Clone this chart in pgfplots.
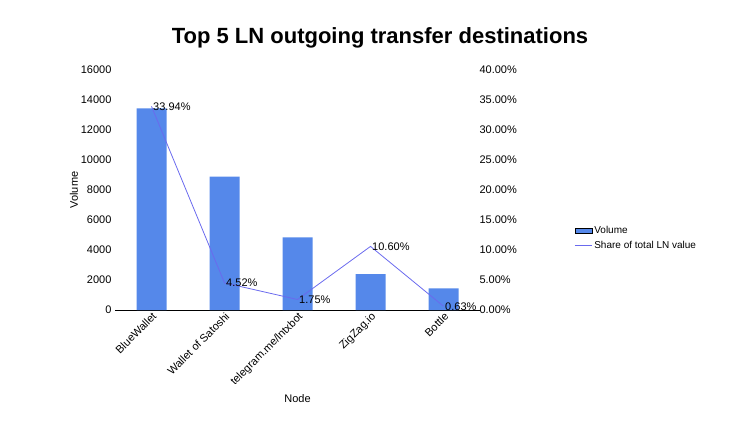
\documentclass[border=0pt]{standalone}
\usepackage{pgfplots}
\pgfplotsset{compat=1.18}
\usepackage{fontspec}
\setmainfont{Liberation Sans}
\definecolor{barc}{HTML}{5588EA}
\definecolor{linec}{HTML}{6A6AEE}
\begin{document}
\begin{tikzpicture}[x=1pt,y=1pt]
\path (0,0) rectangle (746,-425);
\node[font=\fontsize{22}{24}\selectfont\bfseries] at (380,-38) {Top 5 LN outgoing transfer destinations};
\begin{axis}[at={(115pt,-310pt)},anchor=south west,scale only axis,width=365pt,height=240pt,
  xmin=-0.5,xmax=4.5,ymin=0,ymax=16000,ytick={0,2000,...,16000},scaled y ticks=false,
  xtick={0,1,2,3,4},xticklabels={BlueWallet,Wallet of Satoshi,telegram.me/lntxbot,ZigZag.io,Bottle},
  xticklabel style={rotate=45,anchor=north east,font=\fontsize{11}{12}\selectfont,inner sep=1pt},
  yticklabel style={font=\fontsize{11}{12}\selectfont,/pgf/number format/1000 sep={}},
  /pgf/number format/assume math mode=true,
  axis y line*=left,axis x line*=bottom,y axis line style={draw=none},
  major tick length=0pt,
  ylabel={Volume},xlabel={Node},
  label style={font=\fontsize{11}{12}\selectfont},
  ylabel style={yshift=-4pt},
  xlabel style={yshift=-2pt}]
\addplot[ybar,bar width=30pt,fill=barc,draw=none] coordinates {(0,13450)(1,8900)(2,4850)(3,2400)(4,1450)};
\end{axis}
\begin{axis}[at={(115pt,-310pt)},anchor=south west,scale only axis,width=365pt,height=240pt,
  xmin=-0.5,xmax=4.5,ymin=0,ymax=40,ytick={0,5,...,40},
  axis y line*=right,axis x line=none,y axis line style={draw=none},
  major tick length=0pt,
  yticklabel={\pgfmathprintnumber[fixed,fixed zerofill,precision=2]{\tick}\%},
  yticklabel style={font=\fontsize{11}{12}\selectfont,xshift=-4pt},
  /pgf/number format/assume math mode=true,
  legend style={draw=none,font=\fontsize{10}{12}\selectfont,
    at={(1.25,0.3)},anchor=west,row sep=2pt},
  legend cell align=left]
\addlegendimage{area legend,fill=barc,draw=none}
\addlegendentry{Volume}
\addplot[linec,thick,mark=none,nodes near coords,point meta=explicit symbolic,
  every node near coord/.style={font=\fontsize{11}{12}\selectfont,anchor=west,color=black,xshift=-2pt}]
  coordinates {(0,33.94)[33.94\%] (1,4.52)[4.52\%] (2,1.75)[1.75\%] (3,10.60)[10.60\%] (4,0.63)[0.63\%]};
\addlegendentry{Share of total LN value}
\end{axis}
\end{tikzpicture}
\end{document}
